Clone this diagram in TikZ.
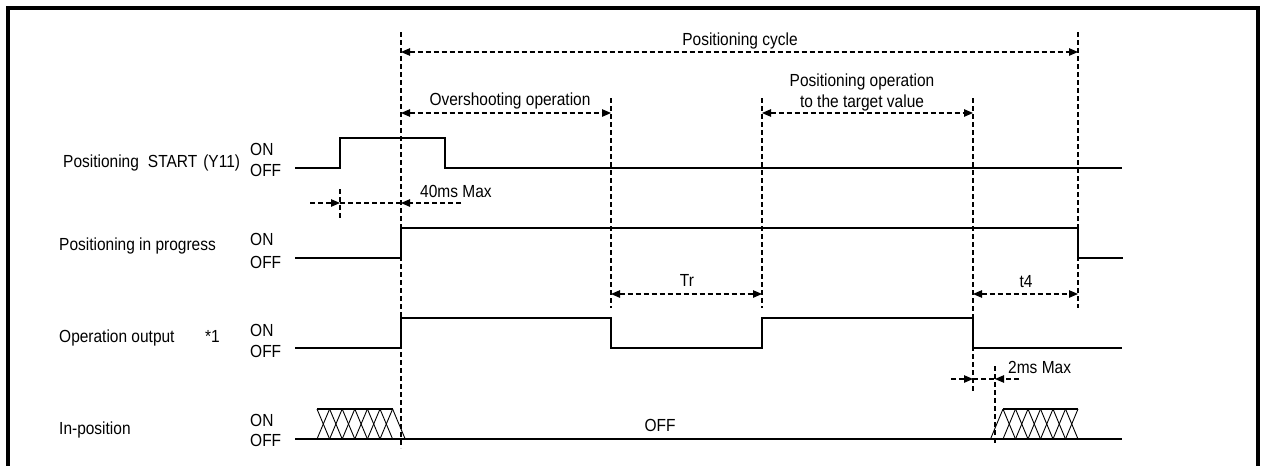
\documentclass[tikz,border=0pt]{standalone}
\usepackage{fontspec}
\setmainfont{Liberation Sans}[FakeStretch=0.885]
\usetikzlibrary{arrows.meta,calc,positioning}

\tikzset{
  sig/.style={line width=2.4pt, line join=miter},
  guide/.style={line width=1.1pt, dash pattern=on 5pt off 3pt},
  hatch/.style={line width=0.9pt},
  lbl/.style={font=\fontsize{17.5}{20.3}\selectfont, inner sep=0pt},
}

\begin{document}
\begin{tikzpicture}[x=1pt,y=-1pt,>={Triangle[length=9pt,width=7.5pt]}]
  \useasboundingbox (0,0) rectangle (1262,466);
  % frame
  \draw[line width=3.6pt] (8,470) -- (8,8) -- (1258,8) -- (1258,470);

  % guide lines at the edges
  \coordinate (gStartT) at (340,189);  \coordinate (gStartB) at (340,218);
  \coordinate (gOnT)    at (401,32);   \coordinate (gOnB)    at (401,448);
  \coordinate (gOffT)   at (611,98);   \coordinate (gOffB)   at (611,308);
  \coordinate (gReT)    at (762,98);   \coordinate (gReB)    at (762,308);
  \coordinate (gEndT)   at (973,98);   \coordinate (gEndB)   at (973,392);
  \coordinate (gInpT)   at (995,366);  \coordinate (gInpB)   at (995,445);
  \coordinate (gCycT)   at (1078,32);  \coordinate (gCycB)   at (1078,308);
  \foreach \g in {Start,On,Off,Re,End,Inp,Cyc}
    \draw[guide] (g\g T) -- (g\g B);

  % dimension arrows
  \coordinate (cycA) at (401,52);  \coordinate (cycB) at (1078,52);
  \coordinate (ovsA) at (401,113); \coordinate (ovsB) at (611,113);
  \coordinate (tgtA) at (762,113); \coordinate (tgtB) at (973,113);
  \coordinate (trA)  at (611,294); \coordinate (trB)  at (762,294);
  \coordinate (tfA)  at (973,294); \coordinate (tfB)  at (1078,294);
  \draw[guide,<->] (cycA) -- (cycB);
  \draw[guide,<->] (ovsA) -- (ovsB);
  \draw[guide,<->] (tgtA) -- (tgtB);
  \draw[guide,<->] (trA) -- (trB);
  \draw[guide,<->] (tfA) -- (tfB);

  % 40ms Max
  \coordinate (fmA) at (310,203); \coordinate (fmB) at (340,203);
  \coordinate (fmC) at (401,203); \coordinate (fmD) at (461,203);
  \draw[guide,->] (fmA) -- (fmB);
  \draw[guide] (fmB) -- (fmC);
  \draw[guide,->] (fmD) -- (fmC);
  % 2ms Max
  \coordinate (tmA) at (951,379); \coordinate (tmB) at (973,379);
  \coordinate (tmC) at (995,379); \coordinate (tmD) at (1019,379);
  \draw[guide,->] (tmA) -- (tmB);
  \draw[guide] (tmB) -- (tmC);
  \draw[guide,->] (tmD) -- (tmC);

  % signals
  \draw[sig] (295,168) -- (340,168) -- (340,138) -- (445,138) -- (445,168) -- (1122,168);
  \draw[sig] (295,258) -- (401,258) -- (401,228) -- (1078,228) -- (1078,258) -- (1123,258);
  \draw[sig] (295,348) -- (401,348) -- (401,318) -- (611,318) -- (611,348)
    -- (762,348) -- (762,318) -- (973,318) -- (973,348) -- (1122,348);
  \draw[sig] (295,439) -- (1122,439);

  % in-position undefined zones
  \draw[hatch, line width=1.5pt] (317,409) -- (392.6,409);
  \foreach \k in {0,...,5} {
    \draw[hatch] ({317+\k*12.6},409) -- ({329.6+\k*12.6},439);
    \draw[hatch] ({317+\k*12.6},439) -- ({329.6+\k*12.6},409);
  }
  \draw[hatch] (392.6,409) -- (405.2,439);
  \draw[hatch, line width=1.5pt] (1003,409) -- (1078,409);
  \draw[hatch] (990.5,439) -- (1003,409);
  \foreach \k in {0,...,5} {
    \draw[hatch] ({1003+\k*12.5},409) -- ({1015.5+\k*12.5},439);
    \draw[hatch] ({1003+\k*12.5},439) -- ({1015.5+\k*12.5},409);
  }

  % signal names
  \node[lbl, anchor=base west] (nStart) at (63,167.7) {Positioning\hspace{9pt}START\hspace{6pt}(Y11)};
  \node[lbl, anchor=base west] (nBusy)  at (59,250.7) {Positioning in progress};
  \node[lbl, anchor=base west] (nOut)   at (59,342.7) {Operation output};
  \node[lbl, anchor=base west] (nNote)  at (205,342.7) {*1};
  \node[lbl, anchor=base west] (nInp)   at (59,434) {In-position};
  % levels
  \node[lbl, anchor=base west] (onStart)  at (250,155)   {ON};
  \node[lbl, anchor=base west] (offStart) at (250,176)   {OFF};
  \node[lbl, anchor=base west] (onBusy)   at (250,245.7) {ON};
  \node[lbl, anchor=base west] (offBusy)  at (250,268)   {OFF};
  \node[lbl, anchor=base west] (onOut)    at (250,336)   {ON};
  \node[lbl, anchor=base west] (offOut)   at (250,357.5) {OFF};
  \node[lbl, anchor=base west] (onInp)    at (250,426)   {ON};
  \node[lbl, anchor=base west] (offInp)   at (250,446.7) {OFF};
  \node[lbl, anchor=base] (offMid) at (660,431.7) {OFF};

  % dimension labels
  \node[lbl, anchor=base] (lCyc) at (740,45) {Positioning cycle};
  \node[lbl, anchor=base] (lOvs) at (510,105) {Overshooting operation};
  \node[lbl, anchor=base, align=center] (lTgt) at (862,107) {Positioning operation\\to the target value};
  \node[lbl, anchor=base west] (lFm) at (420,197) {40ms Max};
  \node[lbl, anchor=base] (lTr) at (687,286.7) {Tr};
  \node[lbl, anchor=base] (lTf) at (1026,287) {t4};
  \node[lbl, anchor=base west] (lTm) at (1008,373) {2ms Max};
\end{tikzpicture}
\end{document}
